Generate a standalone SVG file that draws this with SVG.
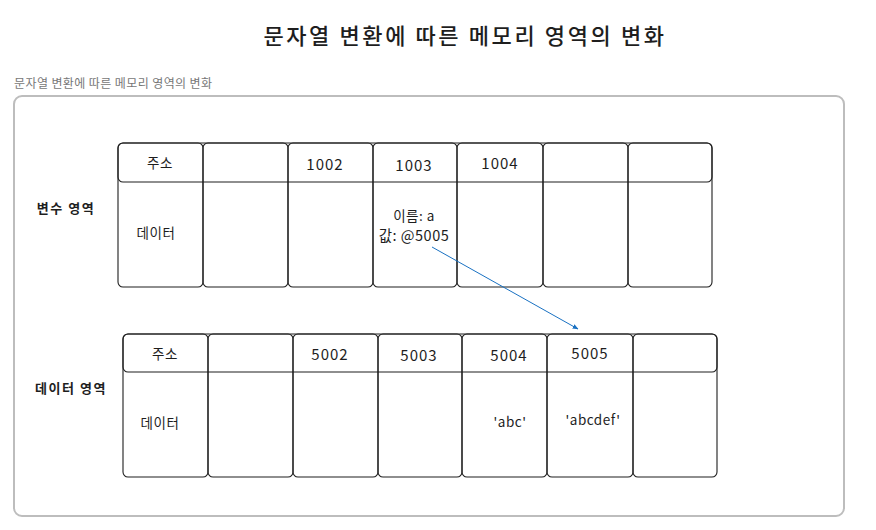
<svg xmlns="http://www.w3.org/2000/svg" width="876" height="530" viewBox="0 0 876 530">
<style>
.frame{fill:none;stroke:#bdbdbd;stroke-width:2}
.cell{fill:none;stroke:#1e1e1e;stroke-width:1.1}
.t{font-family:"Noto Sans CJK KR","Noto Sans",sans-serif;fill:#1e1e1e;text-anchor:middle}
.c{font-size:13.5px;letter-spacing:0.5px}
.n{font-size:15px;letter-spacing:1px}
.lbl{font-size:13px;font-weight:bold;letter-spacing:1.5px}
</style>
<defs>
<marker id="ah" viewBox="0 0 10 10" refX="9" refY="5" markerWidth="6" markerHeight="6" orient="auto">
<path d="M0,1 L10,5 L0,9 z" fill="#1971c2"/>
</marker>
</defs>
<rect width="876" height="530" fill="#ffffff"/>
<text class="t" x="465" y="44" font-size="22" font-weight="500" letter-spacing="2.6">문자열 변환에 따른 메모리 영역의 변화</text>
<text x="14" y="88" font-size="12" letter-spacing="0.4" fill="#777" font-family="'Noto Sans CJK KR',sans-serif">문자열 변환에 따른 메모리 영역의 변화</text>
<rect class="frame" x="14" y="96" width="830" height="420" rx="8"/>

<g id="var-label"><text class="t lbl" x="66" y="213">변수 영역</text></g>
<g id="data-label"><text class="t lbl" x="71" y="393">데이터 영역</text></g>

<g id="var-table">
<rect class="cell" x="118" y="143" width="594" height="39" rx="5"/>
<rect class="cell" x="118" y="143" width="85" height="144" rx="5"/>
<rect class="cell" x="203" y="143" width="85" height="144" rx="5"/>
<rect class="cell" x="288" y="143" width="85" height="144" rx="5"/>
<rect class="cell" x="373" y="143" width="84" height="144" rx="5"/>
<rect class="cell" x="457" y="143" width="86" height="144" rx="5"/>
<rect class="cell" x="543" y="143" width="85" height="144" rx="5"/>
<rect class="cell" x="628" y="143" width="84" height="144" rx="5"/>
<text class="t c" x="160" y="168">주소</text>
<text class="t n" x="325" y="170">1002</text>
<text class="t n" x="414" y="171">1003</text>
<text class="t n" x="500" y="169">1004</text>
<text class="t c" x="156" y="238">데이터</text>
<text class="t c" x="414" y="221">이름: a</text>
<text class="t c" x="414" y="241" style="font-size:14.5px">값: @5005</text>
</g>

<g id="data-table">
<rect class="cell" x="123" y="334" width="594" height="38" rx="5"/>
<rect class="cell" x="123" y="334" width="85" height="143" rx="5"/>
<rect class="cell" x="208" y="334" width="85" height="143" rx="5"/>
<rect class="cell" x="293" y="334" width="85" height="143" rx="5"/>
<rect class="cell" x="378" y="334" width="84" height="143" rx="5"/>
<rect class="cell" x="462" y="334" width="85" height="143" rx="5"/>
<rect class="cell" x="547" y="334" width="86" height="143" rx="5"/>
<rect class="cell" x="633" y="334" width="84" height="143" rx="5"/>
<text class="t c" x="165" y="359">주소</text>
<text class="t n" x="330" y="360">5002</text>
<text class="t n" x="419" y="361">5003</text>
<text class="t n" x="509" y="361">5004</text>
<text class="t n" x="590" y="359">5005</text>
<text class="t c" x="160" y="428">데이터</text>
<text class="t c" x="510" y="427">'abc'</text>
<text class="t c" x="593" y="425">'abcdef'</text>
</g>

<g id="connectors">
<line x1="432" y1="247" x2="578" y2="329" stroke="#1971c2" stroke-width="1" marker-end="url(#ah)"/>
</g>
</svg>
